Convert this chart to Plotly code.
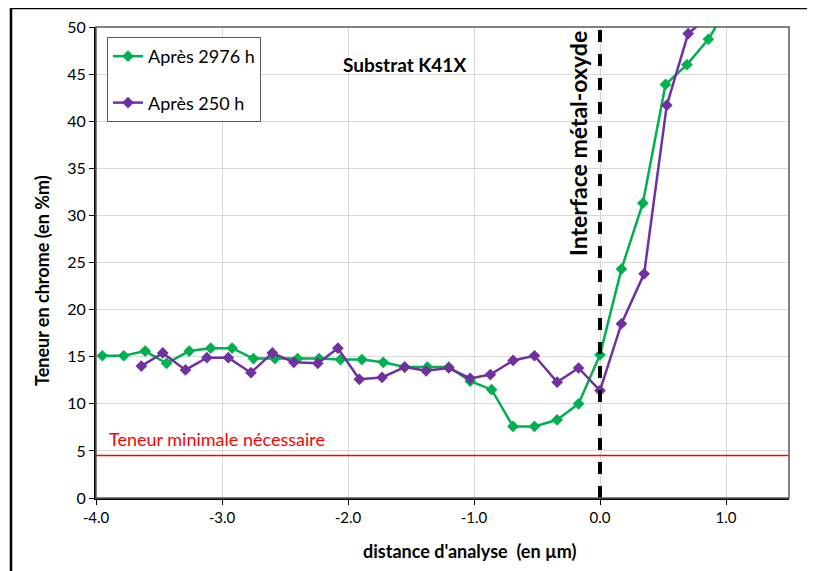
import plotly.graph_objects as go

# ---- data ----
x_2976 = [-3.95, -3.78, -3.61, -3.44, -3.26, -3.09, -2.92, -2.75, -2.58, -2.40,
          -2.23, -2.06, -1.89, -1.72, -1.55, -1.37, -1.20, -1.03, -0.86, -0.69,
          -0.52, -0.34, -0.17, 0.00, 0.17, 0.34, 0.52, 0.69, 0.86, 1.03]
y_2976 = [15.1, 15.1, 15.6, 14.3, 15.6, 15.9, 15.9, 14.8, 14.8, 14.8,
          14.8, 14.7, 14.7, 14.4, 13.9, 13.9, 13.9, 12.4, 11.5, 7.6,
          7.6, 8.3, 10.0, 15.2, 24.3, 31.3, 43.9, 46.0, 48.7, 52.5]

x_250 = [-3.64, -3.47, -3.29, -3.12, -2.95, -2.77, -2.60, -2.43, -2.24, -2.08,
         -1.91, -1.73, -1.55, -1.38, -1.20, -1.03, -0.87, -0.69, -0.52, -0.34,
         -0.17, 0.00, 0.17, 0.35, 0.53, 0.70, 0.87]
y_250 = [14.0, 15.4, 13.6, 14.9, 14.9, 13.3, 15.4, 14.4, 14.3, 15.9,
         12.6, 12.8, 13.9, 13.5, 13.8, 12.7, 13.1, 14.6, 15.1, 12.3,
         13.8, 11.4, 18.5, 23.8, 41.7, 49.3, 51.2]

min_x = [-4.0, 1.5]
min_y = [4.5, 4.5]
interface_x = 0.0

name_2976 = "Après 2976 h"
name_250 = "Après 250 h"
title_x = "distance d'analyse  (en µm)"
title_y = "Teneur en chrome (en %m)"
x_ticks = [-4.0, -3.0, -2.0, -1.0, 0.0, 1.0]
x_ticklabels = ["-4.0", "-3.0", "-2.0", "-1.0", "0.0", "1.0"]
y_ticks = [0, 5, 10, 15, 20, 25, 30, 35, 40, 45, 50]

FONT = "Lato"
GREEN = "#00B050"
PURPLE = "#7030A0"

# page has an 8px body offset: figure drawn at (8, 8)
W, H = 807, 563
PL, PR, PT, PB = 88, 781, 19, 490  # plot area in figure pixels
pw, ph = PR - PL, PB - PT


def px(xp):
    return (xp - 8 - PL) / pw


def py(yp):
    return (PB - (yp - 8)) / ph


fig = go.Figure()
fig.add_trace(go.Scatter(x=min_x, y=min_y, mode="lines", showlegend=False,
                         line=dict(color="#FF0000", width=1.5), hoverinfo="skip"))
fig.add_trace(go.Scatter(x=x_2976, y=y_2976, mode="lines+markers", name=name_2976,
                         legendgroup="a",
                         line=dict(color=GREEN, width=2.5),
                         marker=dict(symbol="diamond", size=9, color=GREEN)))
fig.add_trace(go.Scatter(x=x_250, y=y_250, mode="lines+markers", name=name_250,
                         legendgroup="b",
                         line=dict(color=PURPLE, width=2.5),
                         marker=dict(symbol="diamond", size=9, color=PURPLE)))

# interface dashed line
fig.add_shape(type="line", xref="x", yref="y", x0=interface_x, x1=interface_x,
              y0=0, y1=50, line=dict(color="black", width=4, dash="dash"), layer="above")
# plot area border (top/right)
fig.add_shape(type="rect", xref="paper", yref="paper", x0=0, x1=1, y0=0, y1=1,
              line=dict(color="#595959", width=1.5), layer="above")
# outer frame (left and top)
fig.add_shape(type="line", xref="paper", yref="paper", x0=px(11), x1=px(11),
              y0=py(580), y1=py(8), line=dict(color="black", width=2.5))
fig.add_shape(type="line", xref="paper", yref="paper", x0=px(11), x1=px(830),
              y0=py(8), y1=py(8), line=dict(color="black", width=2.5))


def ann(x, y, text, size, color="black", angle=0, xanchor="center"):
    fig.add_annotation(x=px(x), y=py(y), xref="paper", yref="paper", text=text,
                       showarrow=False, textangle=angle, xanchor=xanchor,
                       yanchor="middle",
                       font=dict(family=FONT, size=size, color=color))


ann(404, 65, "<b>Substrat K41X</b>", 19)
ann(578, 144, "<b>Interface métal-oxyde</b>", 23, angle=-90)
ann(107, 439, "Teneur minimale nécessaire", 18, color="#FF0000", xanchor="left")
ann(470, 551, "<b>" + title_x + "</b>", 18)
ann(42, 281, "<b>" + title_y + "</b>", 18, angle=-90)

fig.update_layout(
    width=W, height=H,
    margin=dict(l=PL, r=W - PR, t=PT, b=H - PB, autoexpand=False),
    paper_bgcolor="white", plot_bgcolor="white",
    font=dict(family=FONT, size=15, color="black"),
    showlegend=True,
    legend=dict(x=px(107), y=py(37), xanchor="left", yanchor="top",
                bordercolor="#595959", borderwidth=1, bgcolor="white",
                font=dict(family=FONT, size=18, color="black"),
                tracegroupgap=20, itemwidth=30),
    xaxis=dict(range=[-4.0, 1.5], tickvals=x_ticks, ticktext=x_ticklabels,
               showgrid=True, gridcolor="#D9D9D9", gridwidth=1,
               showline=True, linecolor="black", linewidth=2,
               ticks="outside", ticklen=5, tickcolor="black", zeroline=False,
               tickfont=dict(family=FONT, size=15)),
    yaxis=dict(range=[0, 50], tickvals=y_ticks,
               showgrid=True, gridcolor="#D9D9D9", gridwidth=1,
               showline=True, linecolor="black", linewidth=2,
               ticks="outside", ticklen=5, tickcolor="black", zeroline=False,
               tickfont=dict(family=FONT, size=16)),
)

fig.write_html("out.html")
